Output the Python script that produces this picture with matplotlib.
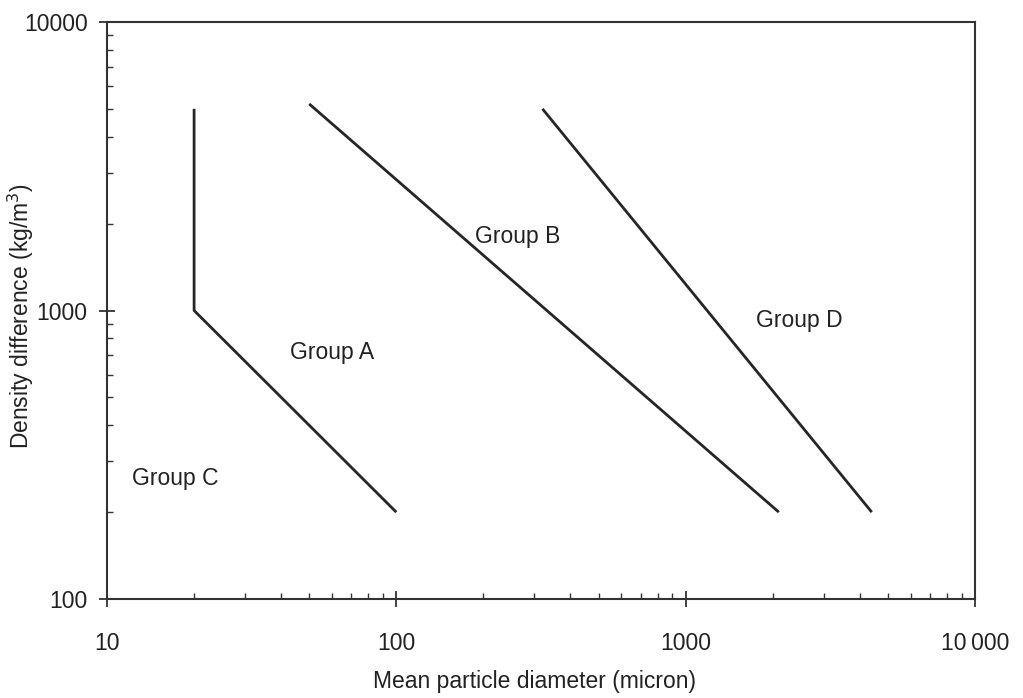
import numpy as np
import matplotlib.pyplot as plt
from matplotlib.ticker import FixedLocator, NullFormatter

plt.rcParams['font.family'] = ['Liberation Sans', 'DejaVu Sans']

# Geldart boundaries (diameter in micron, density difference in kg/m3)
ca_x = [20, 20, 100]
ca_y = [5000, 1000, 200]
ab_x = [50, 2100]
ab_y = [5200, 200]
bd_x = [320, 4400]
bd_y = [5000, 200]

group_names = ['Group C', 'Group A', 'Group B', 'Group D']
group_x = [17.2, 60, 262, 2480]
group_y = [262, 718, 1810, 927]

x_ticks = [10, 100, 1000, 10000]
x_tick_labels = ['10', '100', '1000', '10\u2009000']
y_ticks = [100, 1000, 10000]
y_tick_labels = ['100', '1000', '10000']

fs = 16.5

fig = plt.figure(figsize=(10.23, 6.98), dpi=100)
ax = fig.add_axes([0.1046, 0.1418, 0.8484, 0.8267])

line_kw = dict(color='#262626', lw=2.0, solid_capstyle='butt')
ax.plot(ca_x, ca_y, **line_kw)
ax.plot(ab_x, ab_y, **line_kw)
ax.plot(bd_x, bd_y, **line_kw)

for name, gx, gy in zip(group_names, group_x, group_y):
    ax.text(gx, gy, name, fontsize=fs, ha='center', va='center', color='#222222')

ax.set_xscale('log')
ax.set_yscale('log')
ax.set_xlim(10, 10000)
ax.set_ylim(100, 10000)

ax.xaxis.set_major_locator(FixedLocator(x_ticks))
ax.set_xticklabels(x_tick_labels)
ax.yaxis.set_major_locator(FixedLocator(y_ticks))
ax.set_yticklabels(y_tick_labels)
minor_x = [m * d for d in [10, 100, 1000] for m in range(2, 10)]
minor_y = [m * d for d in [100, 1000] for m in range(2, 10)]
ax.xaxis.set_minor_locator(FixedLocator(minor_x))
ax.yaxis.set_minor_locator(FixedLocator(minor_y))
ax.xaxis.set_minor_formatter(NullFormatter())
ax.yaxis.set_minor_formatter(NullFormatter())

ax.tick_params(which='major', direction='inout', length=12, width=1.3,
               color='#333333', labelsize=fs, labelcolor='#222222')
ax.tick_params(axis='x', which='major', pad=18)
ax.tick_params(axis='y', which='major', pad=8)
ax.tick_params(which='minor', direction='in', length=4, width=1.0, color='#333333')

for sp in ax.spines.values():
    sp.set_color('#333333')
    sp.set_linewidth(1.5)

ax.set_xlabel('Mean particle diameter (micron)', fontsize=fs, color='#222222')
ax.set_ylabel('Density difference (kg/m$^3$)', fontsize=fs, color='#222222')
ax.xaxis.set_label_coords(0.493, -0.123)
ax.yaxis.set_label_coords(-0.082, 0.49)

fig.savefig('out.png', dpi=100)
